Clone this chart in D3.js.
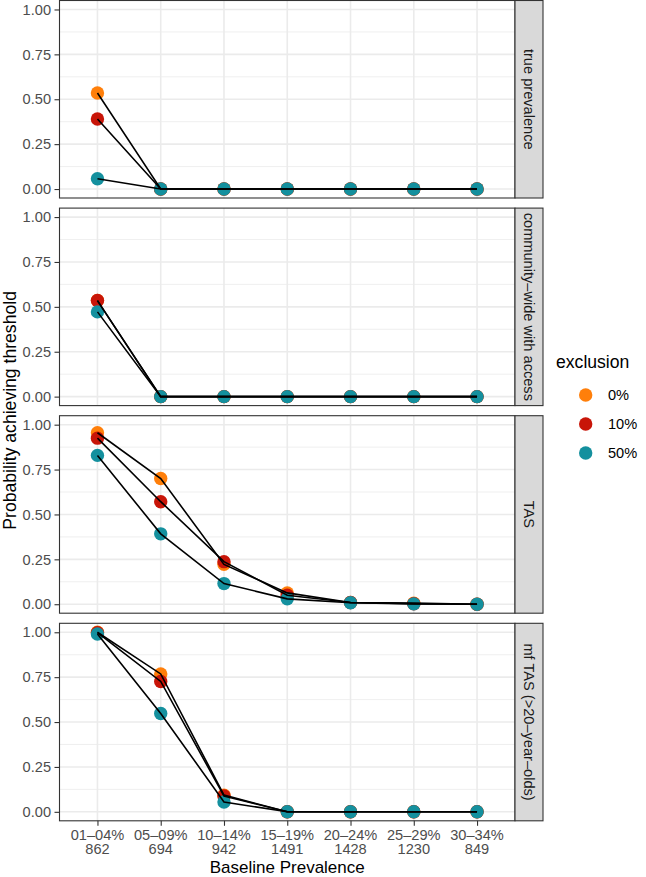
<!DOCTYPE html>
<html>
<head>
<meta charset="utf-8">
<script src="https://cdn.jsdelivr.net/npm/d3@7"></script>
<style>
  html, body { margin: 0; padding: 0; background: #fff; }
  svg { display: block; font-family: "Liberation Sans", Arial, sans-serif; }
</style>
</head>
<body>
<svg id="chart" width="646" height="877"></svg>
<script>
// ---- data ----
const categories = ["01\u201304%", "05\u201309%", "10\u201314%", "15\u201319%", "20\u201324%", "25\u201329%", "30\u201334%"];
const sampleSizes = ["862", "694", "942", "1491", "1428", "1230", "849"];
const facets = ["true prevalence", "community\u2013wide with access", "TAS", "mf TAS (>20\u2013year\u2013olds)"];
const exclusions = ["0%", "10%", "50%"];
const colors = ["#FF7F0A", "#C81508", "#14909E"];
const yTicks = [0, 0.25, 0.5, 0.75, 1];

// values per facet and exclusion level, one per category
const truePrev0  = [0.535, 0, 0, 0, 0, 0, 0];
const truePrev10 = [0.390, 0, 0, 0, 0, 0, 0];
const truePrev50 = [0.057, 0, 0, 0, 0, 0, 0];

const community0  = [0.535, 0, 0, 0, 0, 0, 0];
const community10 = [0.535, 0, 0, 0, 0, 0, 0];
const community50 = [0.472, 0, 0, 0, 0, 0, 0];

const tas0  = [0.955, 0.700, 0.222, 0.063, 0.010, 0.006, 0];
const tas10 = [0.925, 0.571, 0.237, 0.050, 0.010, 0.003, 0];
const tas50 = [0.829, 0.392, 0.115, 0.030, 0.008, 0.002, 0];

const mf0  = [1.000, 0.768, 0.093, 0, 0, 0, 0];
const mf10 = [0.998, 0.726, 0.088, 0, 0, 0, 0];
const mf50 = [0.990, 0.548, 0.055, 0, 0, 0, 0];

const panelData = [
  [truePrev0, truePrev10, truePrev50],
  [community0, community10, community50],
  [tas0, tas10, tas50],
  [mf0, mf10, mf50]
];

// ---- layout ----
const svg = d3.select("#chart");
const panelLeft = 59.5, panelRight = 515;
const panelH = 197.5, panelStep = 207.6, firstTop = 0.5;
const stripW = 28;
const tickFont = 14.6, titleFont = 17;

const x = d3.scalePoint().domain(categories).range([panelLeft, panelRight]).padding(0.6);

const gridColor = "#EBEBEB";
const borderColor = "#333333";

facets.forEach((facet, fi) => {
  const top = firstTop + fi * panelStep;
  const bottom = top + panelH;
  const y = d3.scaleLinear().domain([-0.05, 1.05]).range([bottom, top]);
  const g = svg.append("g");

  // minor grid
  const minor = [0.125, 0.375, 0.625, 0.875];
  g.selectAll(".minor").data(minor).enter().append("line")
    .attr("x1", panelLeft).attr("x2", panelRight)
    .attr("y1", d => y(d)).attr("y2", d => y(d))
    .attr("stroke", gridColor).attr("stroke-width", 0.8);
  // major grid
  g.selectAll(".majorY").data(yTicks).enter().append("line")
    .attr("x1", panelLeft).attr("x2", panelRight)
    .attr("y1", d => y(d)).attr("y2", d => y(d))
    .attr("stroke", gridColor).attr("stroke-width", 1.6);
  g.selectAll(".majorX").data(categories).enter().append("line")
    .attr("x1", d => x(d)).attr("x2", d => x(d))
    .attr("y1", top).attr("y2", bottom)
    .attr("stroke", gridColor).attr("stroke-width", 1.6);

  // points
  panelData[fi].forEach((series, si) => {
    g.selectAll(".pt" + si).data(series).enter().append("circle")
      .attr("cx", (d, i) => x(categories[i]))
      .attr("cy", d => y(d))
      .attr("r", 6.7)
      .attr("fill", colors[si]);
  });
  // lines
  const line = d3.line().x((d, i) => x(categories[i])).y(d => y(d));
  panelData[fi].forEach((series) => {
    g.append("path").datum(series)
      .attr("d", line)
      .attr("fill", "none")
      .attr("stroke", "#000")
      .attr("stroke-width", 1.6);
  });

  // panel border
  g.append("rect")
    .attr("x", panelLeft).attr("y", top)
    .attr("width", panelRight - panelLeft).attr("height", panelH)
    .attr("fill", "none").attr("stroke", borderColor).attr("stroke-width", 1.1);

  // strip
  g.append("rect")
    .attr("x", panelRight).attr("y", top)
    .attr("width", stripW).attr("height", panelH)
    .attr("fill", "#D9D9D9").attr("stroke", borderColor).attr("stroke-width", 1.1);
  g.append("text")
    .attr("transform", `translate(${panelRight + stripW / 2},${(top + bottom) / 2}) rotate(90)`)
    .attr("text-anchor", "middle")
    .attr("dominant-baseline", "central")
    .attr("font-size", tickFont)
    .attr("fill", "#1A1A1A")
    .text(facet);

  // y axis
  const yAxis = d3.axisLeft(y).tickValues(yTicks).tickFormat(d3.format(".2f")).tickSize(5).tickPadding(3.5);
  const ya = g.append("g").attr("transform", `translate(${panelLeft},0)`).call(yAxis);
  ya.select(".domain").remove();
  ya.selectAll(".tick line").attr("stroke", borderColor).attr("stroke-width", 1.1);
  ya.selectAll(".tick text").attr("fill", "#4D4D4D").attr("font-size", tickFont)
    .attr("font-family", "Liberation Sans, Arial, sans-serif");

  // x axis on last panel
  if (fi === facets.length - 1) {
    const xAxis = d3.axisBottom(x).tickSize(5).tickFormat("");
    const xa = g.append("g").attr("transform", `translate(0,${bottom})`).call(xAxis);
    xa.select(".domain").remove();
    xa.selectAll(".tick line").attr("stroke", borderColor).attr("stroke-width", 1.1);
    const lab = g.append("g").selectAll("text").data(categories).enter().append("text")
      .attr("x", d => x(d))
      .attr("text-anchor", "middle")
      .attr("font-size", tickFont)
      .attr("fill", "#4D4D4D");
    lab.append("tspan").attr("x", d => x(d)).attr("y", bottom + 19).text(d => d);
    lab.append("tspan").attr("x", d => x(d)).attr("y", bottom + 33.5).text((d, i) => sampleSizes[i]);
  }
});

// axis titles
svg.append("text")
  .attr("x", (panelLeft + panelRight) / 2).attr("y", 873)
  .attr("text-anchor", "middle").attr("font-size", titleFont).attr("fill", "#000")
  .text("Baseline Prevalence");
svg.append("text")
  .attr("transform", `translate(15.5,${(firstTop + 3 * panelStep + panelH) / 2}) rotate(-90)`)
  .attr("text-anchor", "middle").attr("font-size", 17.6).attr("fill", "#000")
  .text("Probability achieving threshold");

// legend
const legend = svg.append("g");
legend.append("text").attr("x", 556).attr("y", 368)
  .attr("font-size", 17.6).attr("fill", "#000").text("exclusion");
exclusions.forEach((ex, i) => {
  const cy = 395 + i * 29;
  legend.append("circle").attr("cx", 585.7).attr("cy", cy).attr("r", 6.7).attr("fill", colors[i]);
  legend.append("text").attr("x", 608).attr("y", cy).attr("dominant-baseline", "central")
    .attr("font-size", tickFont).attr("fill", "#000").text(ex);
});
</script>
</body>
</html>
